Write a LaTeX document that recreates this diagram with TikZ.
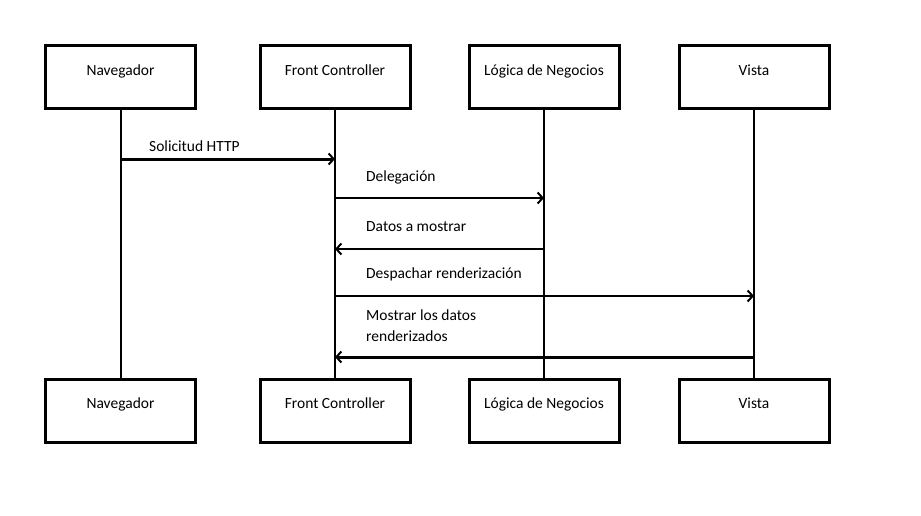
\documentclass[tikz,border=0pt]{standalone}
\usepackage{fontspec}
\setmainfont{Carlito}
\usetikzlibrary{arrows.meta}

\tikzset{
  actor/.style={draw, line width=3pt, minimum width=150pt, minimum height=63pt, inner sep=0pt},
  lifeline/.style={line width=2pt},
  msg/.style={line width=2pt, -{Straight Barb[length=5pt,width=11pt,line width=2pt]}},
  msgbold/.style={msg, line width=3pt},
  txt/.style={font=\fontsize{15.5}{21}\selectfont, inner sep=0pt, anchor=base}
}

\begin{document}
\begin{tikzpicture}[x=1pt, y=-1pt]
\useasboundingbox (0,0) rectangle (921,515);

% Top row of boxes
\node[actor] (navtop) at (120.5,76.5) {};
\node[actor] (fctop) at (335,76.5) {};
\node[actor] (logtop) at (544,76.5) {};
\node[actor] (vistop) at (754,76.5) {};
\node[txt] (navtoplbl) at (120.5,75.5) {Navegador};
\node[txt] (fctoplbl) at (335,75.5) {Front Controller};
\node[txt] (logtoplbl) at (544,75.5) {Lógica de Negocios};
\node[txt] (vistoplbl) at (754,75.5) {Vista};

% Bottom row of boxes
\node[actor] (navbot) at (120.5,410.5) {};
\node[actor] (fcbot) at (335,410.5) {};
\node[actor] (logbot) at (544,410.5) {};
\node[actor] (visbot) at (754,410.5) {};
\node[txt] (navbotlbl) at (120.5,408.5) {Navegador};
\node[txt] (fcbotlbl) at (335,408.5) {Front Controller};
\node[txt] (logbotlbl) at (544,408.5) {Lógica de Negocios};
\node[txt] (visbotlbl) at (754,408.5) {Vista};

% Lifelines
\draw[lifeline] (navtop.south) -- (navbot.north);
\draw[lifeline] (fctop.south) -- (fcbot.north);
\draw[lifeline] (logtop.south) -- (logbot.north);
\draw[lifeline] (vistop.south) -- (visbot.north);

% Messages
\draw[msgbold] (navtop.south |- 0,159) -- (fctop.south |- 0,159);
\node[txt, anchor=base west] (m1) at (149,151.5) {Solicitud HTTP};

\draw[msg] (fctop.south |- 0,198) -- (logtop.south |- 0,198);
\node[txt, anchor=base west] (m2) at (366,181.5) {Delegación};

\draw[msg] (logtop.south |- 0,249) -- (fctop.south |- 0,249);
\node[txt, anchor=base west] (m3) at (366,231.5) {Datos a mostrar};

\draw[msg] (fctop.south |- 0,296) -- (vistop.south |- 0,296);
\node[txt, anchor=base west] (m4) at (366,278.5) {Despachar renderización};

\draw[msgbold] (vistop.south |- 0,357) -- (fctop.south |- 0,357);
\node[txt, anchor=base west] (m5) at (366,320) {Mostrar los datos};
\node[txt, anchor=base west] (m5b) at (366,341.5) {renderizados};

\end{tikzpicture}
\end{document}
